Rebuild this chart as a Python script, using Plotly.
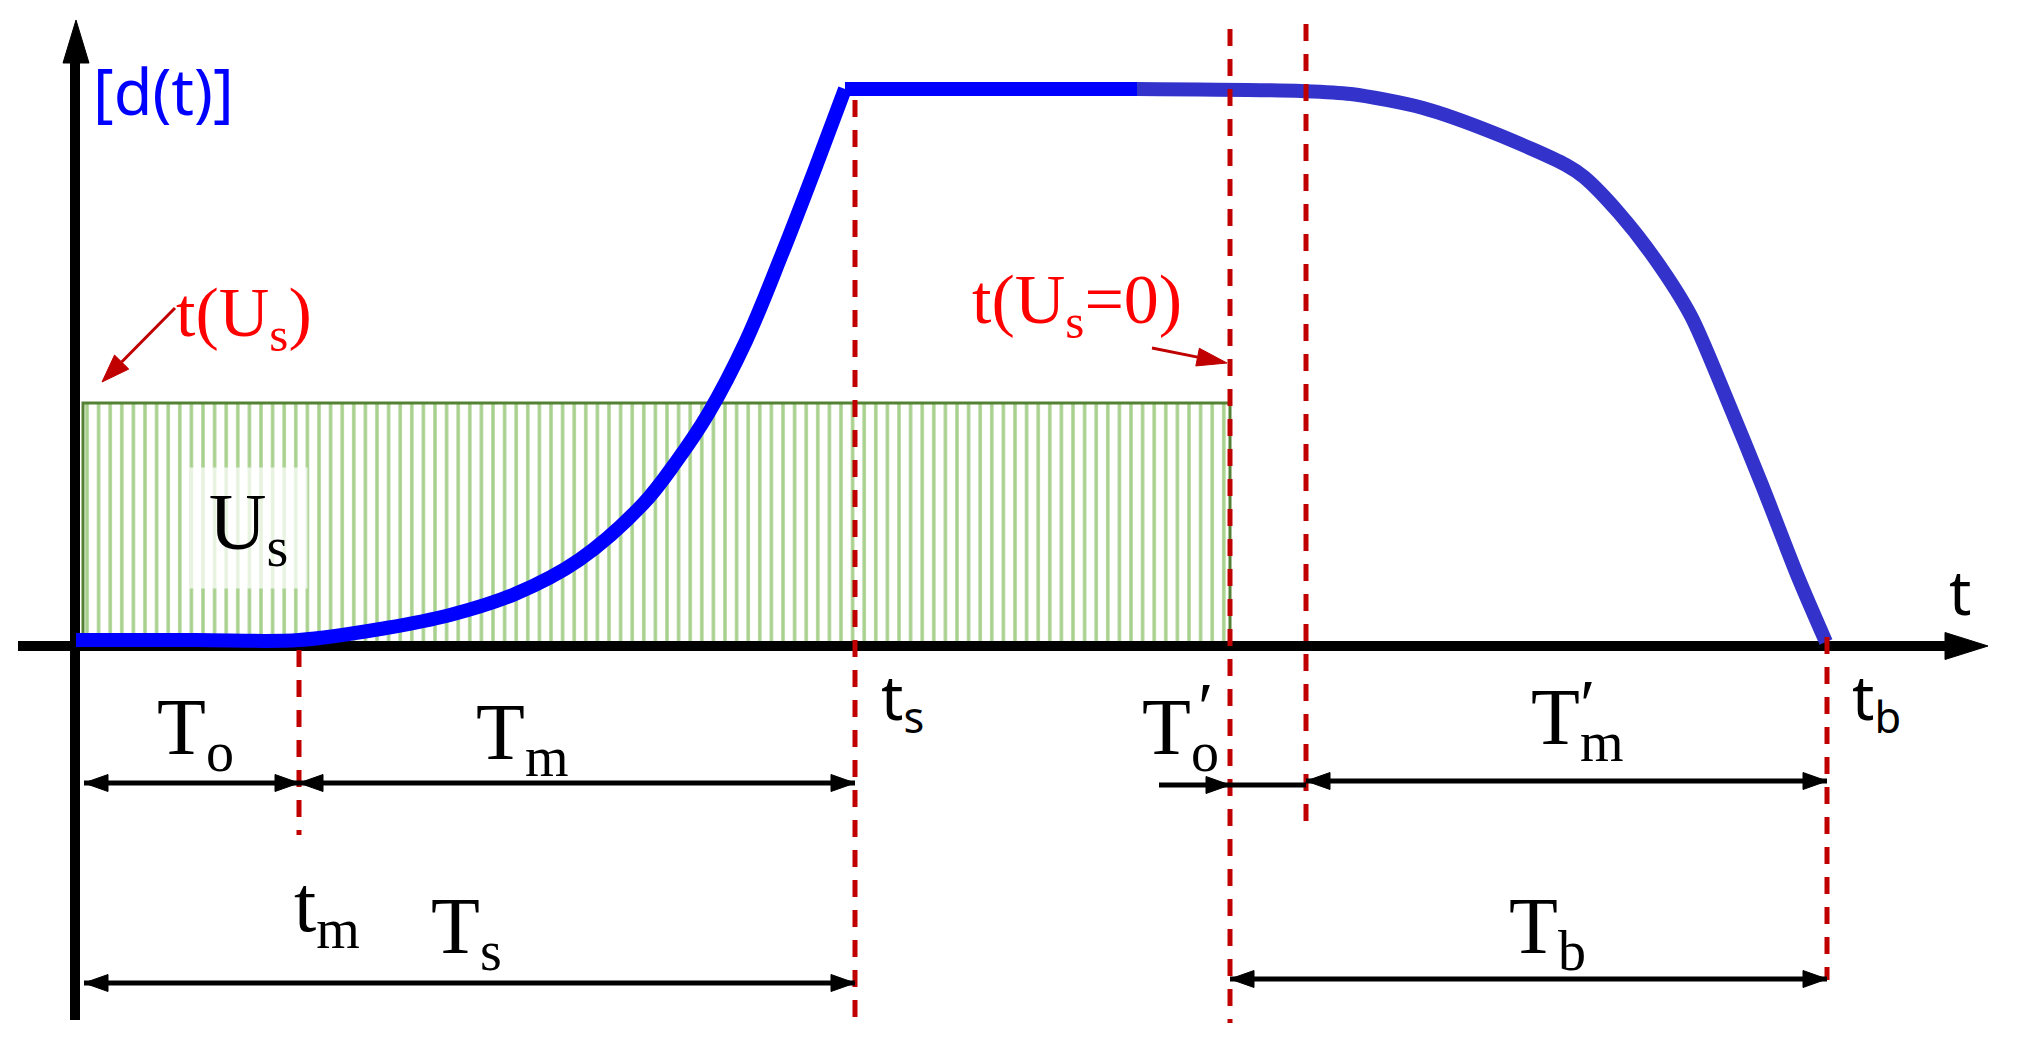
import math
import plotly.graph_objects as go

# ---------------- data (time units / response units) ----------------
T_M = 2.23      # t_m
T_S = 7.79      # t_s
T_US0 = 11.54   # t(U_s = 0)
T_DEC = 12.30   # start of decline
T_B = 17.51     # t_b
US_START = 0.07
US_LEVEL = 2.43

# blue response curve d(t)
rise_t = [0.0, 1.2, 2.23, 3.10, 3.74, 4.39, 5.03, 5.67, 6.00, 6.32, 6.70, 7.06, 7.42, 7.69]
rise_d = [0.06, 0.06, 0.06, 0.18, 0.31, 0.52, 0.86, 1.42, 1.84, 2.32, 3.05, 3.92, 4.85, 5.57]
plateau_t = [7.69, 10.61]
plateau_d = [5.57, 5.57]
fall_t = [10.61, 12.25, 12.75, 13.47, 14.18, 14.90, 15.08, 15.43, 15.79, 16.15, 16.50, 16.86, 17.22, 17.50]
fall_d = [5.57, 5.55, 5.52, 5.38, 5.13, 4.81, 4.69, 4.33, 3.87, 3.30, 2.49, 1.61, 0.69, 0.04]

# red dashed marker lines
marker_t = [T_M, T_S, T_US0, T_DEC, T_B]
marker_top = [-0.04, 5.46, 6.17, 6.22, 0.09]
marker_bottom = [-1.89, -3.74, -3.77, -1.77, -3.34]

# dimension arrows
dim_start = [0.08, T_M, 10.83, T_US0, T_DEC, 0.08, T_US0]
dim_end = [T_M, T_S, T_US0, T_DEC, T_B, T_S, T_B]
dim_level = [-1.37, -1.37, -1.39, -1.39, -1.35, -3.37, -3.33]
dim_heads = ["both", "both", "end", "none", "both", "both", "both"]

# axes
axis_x_range = [-0.58, 19.12]
axis_y_range = [-3.74, 6.26]

# labels
serif_labels = ["T<sub>o</sub>", "T<sub>m</sub>", "T<sub>s</sub>", "t<sub>m</sub>",
                "T<sub>o</sub>", "T<sub>m</sub>", "T<sub>b</sub>"]
serif_t = [1.19, 4.46, 3.90, 2.51, 11.04, 15.01, 14.71]
serif_d = [-0.87, -0.92, -2.86, -2.64, -0.87, -0.77, -2.86]
prime_t = [11.29, 15.11]
prime_d = [-0.61, -0.58]
sans_labels = ["t<sub>s</sub>", "t<sub>b</sub>", "t"]
sans_t = [8.26, 18.00, 18.84]
sans_d = [-0.54, -0.54, 0.55]

# red pointer arrows (t(U_s) and t(U_s=0))
red_text = ["t(U<sub>s</sub>)", "t(U<sub>s</sub>=0)"]
red_text_t = [1.68, 10.01]
red_text_d = [3.28, 3.41]
red_from_t = [0.99, 10.76]
red_from_d = [3.38, 2.98]
red_to_t = [0.26, 11.51]
red_to_d = [2.64, 2.83]

PX = 100.0  # pixels per unit on both axes
W, H = 2017, 1045
X0_PX, Y0_PX = 76, 646

SERIF = "Liberation Serif"
SANS = "Noto Sans"


def head(x0, y0, x1, y1, length_px, width_px):
    """triangle arrow head at (x1, y1) pointing from (x0, y0)."""
    dx, dy = x1 - x0, y1 - y0
    n = math.hypot(dx, dy)
    ux, uy = dx / n, dy / n
    L, Wd = length_px / PX, width_px / PX / 2
    bx, by = x1 - ux * L, y1 - uy * L
    return ([x1, bx - uy * Wd, bx + uy * Wd, x1, None],
            [y1, by + ux * Wd, by - ux * Wd, y1, None], (bx, by))


fig = go.Figure()

# hatched U_s block
fig.add_trace(go.Bar(
    x=[(US_START + T_US0) / 2], y=[US_LEVEL], width=[T_US0 - US_START], base=[0],
    marker=dict(color="white",
                pattern=dict(shape="|", fgcolor="#A9D18E", bgcolor="white",
                             size=11.6, solidity=0.3, fillmode="replace"),
                line=dict(color="#548235", width=3)),
    hoverinfo="skip"))

# axes with arrow heads
tri_x, tri_y = [], []
hx, hy, yb = head(0, axis_y_range[0], 0, axis_y_range[1], 43, 26)
tri_x += hx; tri_y += hy
fig.add_trace(go.Scatter(x=[-0.01, -0.01], y=[axis_y_range[0], yb[1] + 0.02], mode="lines",
                         line=dict(color="black", width=10), hoverinfo="skip"))
hx, hy, xb = head(axis_x_range[0], 0, axis_x_range[1], 0, 43, 27)
tri_x += hx; tri_y += hy
fig.add_trace(go.Scatter(x=[axis_x_range[0], xb[0] + 0.02], y=[0, 0], mode="lines",
                         line=dict(color="black", width=10), hoverinfo="skip"))
fig.add_trace(go.Scatter(x=tri_x, y=tri_y, mode="lines", fill="toself", fillcolor="black",
                         line=dict(color="black", width=1), hoverinfo="skip"))

# blue response curve
fig.add_trace(go.Scatter(x=fall_t, y=fall_d, mode="lines",
                         line=dict(color="#3333CC", width=14, shape="spline", smoothing=0.8), hoverinfo="skip"))
fig.add_trace(go.Scatter(x=rise_t, y=rise_d, mode="lines",
                         line=dict(color="#0000FF", width=14, shape="spline", smoothing=1.0), hoverinfo="skip"))
fig.add_trace(go.Scatter(x=plateau_t, y=plateau_d, mode="lines",
                         line=dict(color="#0000FF", width=14), hoverinfo="skip"))

# red dashed markers
mx, my = [], []
for t, top, bot in zip(marker_t, marker_top, marker_bottom):
    mx += [t, t, None]
    my += [top, bot, None]
fig.add_trace(go.Scatter(x=mx, y=my, mode="lines",
                         line=dict(color="#C00000", width=5, dash="17px,13px"), hoverinfo="skip"))

# dimension arrows
lx, ly, ax_, ay_ = [], [], [], []
for s, e, lev, hd in zip(dim_start, dim_end, dim_level, dim_heads):
    lx += [s, e, None]
    ly += [lev, lev, None]
    if hd in ("both", "end"):
        a, b, _ = head(s, lev, e, lev, 24, 17)
        ax_ += a; ay_ += b
    if hd in ("both", "start"):
        a, b, _ = head(e, lev, s, lev, 24, 17)
        ax_ += a; ay_ += b
fig.add_trace(go.Scatter(x=lx, y=ly, mode="lines", line=dict(color="black", width=5), hoverinfo="skip"))
fig.add_trace(go.Scatter(x=ax_, y=ay_, mode="lines", fill="toself", fillcolor="black",
                         line=dict(color="black", width=1), hoverinfo="skip"))

# red pointer arrows
rx, ry, hx2, hy2 = [], [], [], []
sizes = [(28, 20), (30, 18)]
for (x0, y0, x1, y1), (L, Wd) in zip(zip(red_from_t, red_from_d, red_to_t, red_to_d), sizes):
    a, b, base = head(x0, y0, x1, y1, L, Wd)
    hx2 += a; hy2 += b
    rx += [x0, base[0], None]
    ry += [y0, base[1], None]
fig.add_trace(go.Scatter(x=rx, y=ry, mode="lines", line=dict(color="#C00000", width=3), hoverinfo="skip"))
fig.add_trace(go.Scatter(x=hx2, y=hy2, mode="lines", fill="toself", fillcolor="#C00000",
                         line=dict(color="#C00000", width=1), hoverinfo="skip"))

# annotations
ann = []
for txt, t, d in zip(serif_labels, serif_t, serif_d):
    ann.append(dict(x=t, y=d, text=txt, showarrow=False, xanchor="center", yanchor="middle",
                    font=dict(family=SERIF, size=80, color="black")))
for t, d in zip(prime_t, prime_d):
    ann.append(dict(x=t, y=d, text="\u2032", showarrow=False, xanchor="center", yanchor="middle",
                    font=dict(family=SERIF, size=70, color="black")))
for txt, t, d in zip(sans_labels, sans_t, sans_d):
    ann.append(dict(x=t, y=d, text=txt, showarrow=False, xanchor="center", yanchor="middle",
                    font=dict(family=SANS, size=62, color="black")))
for txt, t, d in zip(red_text, red_text_t, red_text_d):
    ann.append(dict(x=t, y=d, text=txt, showarrow=False, xanchor="center", yanchor="middle",
                    font=dict(family=SERIF, size=70, color="#FF0000")))
ann.append(dict(x=0.87, y=5.56, text="[d(t)]", showarrow=False, xanchor="center", yanchor="middle",
                font=dict(family=SANS, size=63, color="#0000FF")))
ann.append(dict(x=1.72, y=1.18, text="U<sub>s</sub>", showarrow=False, xanchor="center", yanchor="middle",
                width=117, height=120, bgcolor="rgba(255,255,255,0.72)", borderpad=0,
                font=dict(family=SERIF, size=80, color="black")))

fig.update_layout(
    width=W, height=H, margin=dict(l=0, r=0, t=0, b=0),
    paper_bgcolor="white", plot_bgcolor="white", showlegend=False,
    xaxis=dict(range=[-X0_PX / PX, (W - X0_PX) / PX], visible=False, fixedrange=True),
    yaxis=dict(range=[(Y0_PX - H) / PX, Y0_PX / PX], visible=False, fixedrange=True),
    annotations=ann, hovermode=False,
)

fig.write_html("out.html", config={"displayModeBar": False},
               post_script="document.body.style.margin='0';")
